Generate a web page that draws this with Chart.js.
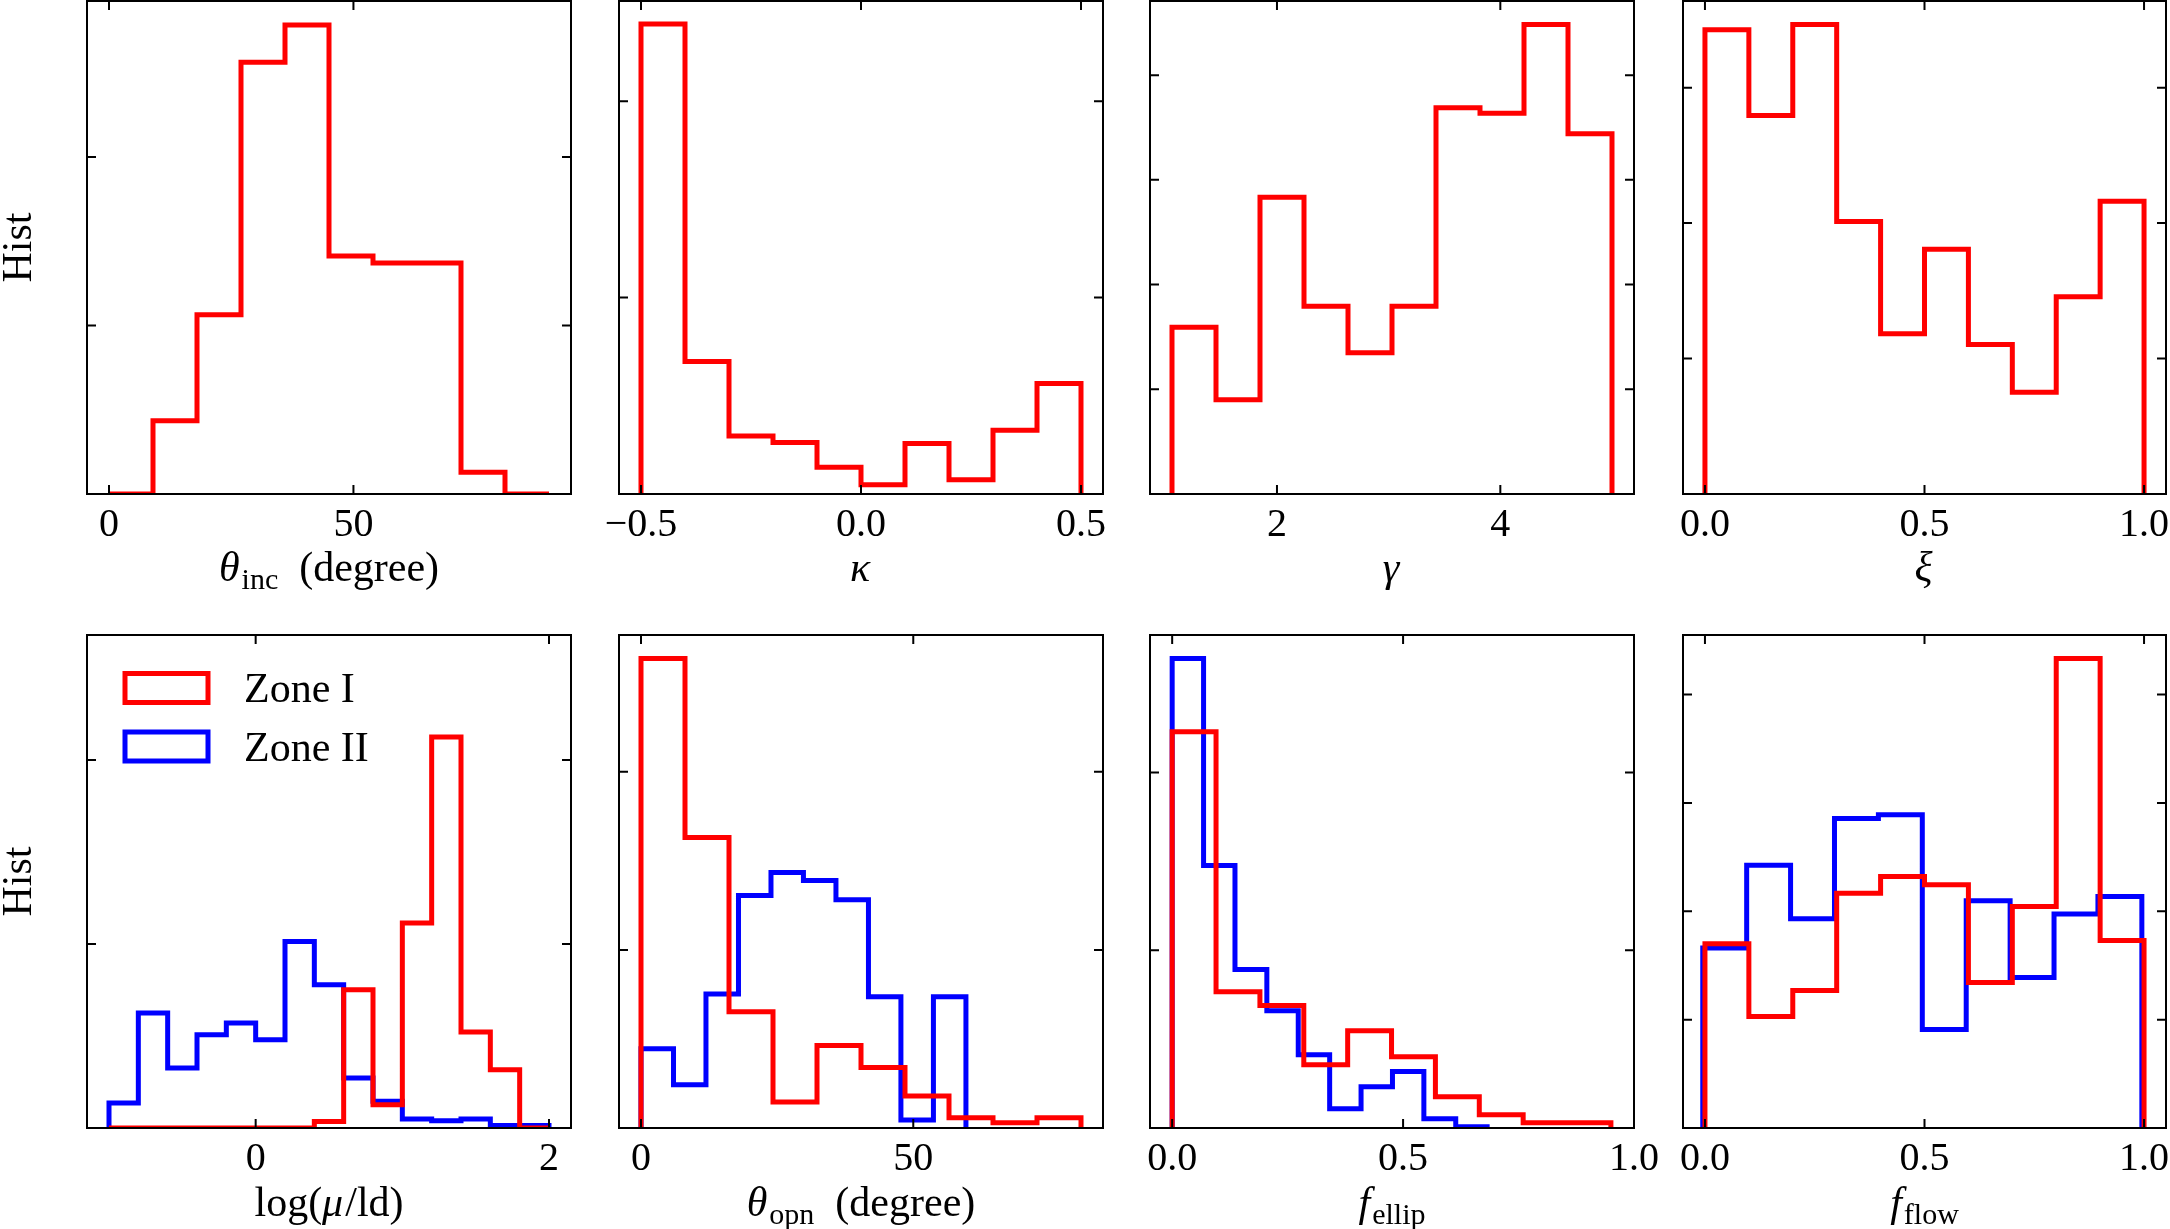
<!DOCTYPE html>
<html>
<head>
<meta charset="utf-8">
<title>Hist</title>
<script src="https://cdn.jsdelivr.net/npm/chart.js@4.4.1/dist/chart.umd.min.js"></script>
<style>
  html, body { margin: 0; padding: 0; background: #fff; overflow: hidden; }
  #wrap { position: relative; width: 2170px; height: 1229px; }
  #wrap canvas { position: absolute; }
</style>
</head>
<body>
<div id="wrap"></div>
<script>
// Histogram densities (bin edges + heights)
const incEdges = [0, 9, 18, 27, 36, 45, 54, 63, 72, 81, 90];
const incZone1 = [0, 0.00434, 0.01063, 0.02561, 0.02783, 0.01412, 0.01371, 0.01371, 0.00129, 0];

const kappaEdges = [-0.5, -0.4, -0.3, -0.2, -0.1, 0, 0.1, 0.2, 0.3, 0.4, 0.5];
const kappaZone1 = [4.786, 1.350, 0.591, 0.525, 0.272, 0.093, 0.514, 0.144, 0.650, 1.125];

const gammaEdges = [1.06, 1.454, 1.848, 2.242, 2.636, 3.03, 3.424, 3.818, 4.212, 4.606, 5.0];
const gammaZone1 = [0.1593, 0.0900, 0.2833, 0.1794, 0.1349, 0.1794, 0.3689, 0.3635, 0.4484, 0.3441];

const xiEdges = [0, 0.1, 0.2, 0.3, 0.4, 0.5, 0.6, 0.7, 0.8, 0.9, 1.0];
const xiZone1 = [1.714, 1.397, 1.733, 1.006, 0.592, 0.904, 0.552, 0.376, 0.728, 1.081];

const muEdges = [-1, -0.8, -0.6, -0.4, -0.2, 0, 0.2, 0.4, 0.6, 0.8, 1.0, 1.2, 1.4, 1.6, 1.8, 2.0];
const muZone1 = [0, 0, 0, 0, 0, 0, 0, 0.036, 0.752, 0.127, 1.114, 2.125, 0.522, 0.317, 0];
const muZone2 = [0.136, 0.625, 0.326, 0.507, 0.571, 0.480, 1.014, 0.779, 0.272, 0.145, 0.049, 0.040, 0.049, 0.013, 0.013];

const opnEdges1 = [0, 8.08, 16.16, 24.24, 32.32, 40.4, 48.48, 56.56, 64.64, 72.72, 80.8];
const opnZone1 = [0.05272, 0.03262, 0.01304, 0.00292, 0.00926, 0.00678, 0.0036, 0.00116, 0.00058, 0.00116];
const opnEdges2 = [0, 5.97, 11.93, 17.9, 23.87, 29.83, 35.8, 41.77, 47.73, 53.7, 59.67];
const opnZone2 = [0.0089, 0.00486, 0.01506, 0.02612, 0.02868, 0.02778, 0.02562, 0.01474, 0.0009, 0.01474];

const ellipEdges1 = [0, 0.095, 0.19, 0.285, 0.38, 0.475, 0.57, 0.665, 0.76, 0.855, 0.95];
const ellipZone1 = [4.46, 1.532, 1.378, 0.712, 1.094, 0.802, 0.352, 0.148, 0.058, 0.058];
const ellipEdges2 = [0, 0.068, 0.136, 0.205, 0.273, 0.341, 0.409, 0.477, 0.545, 0.614, 0.682];
const ellipZone2 = [5.284, 2.954, 1.784, 1.32, 0.824, 0.216, 0.464, 0.636, 0.104, 0.014];

const flowEdges1 = [0, 0.1, 0.2, 0.3, 0.4, 0.5, 0.6, 0.7, 0.8, 0.9, 1.0];
const flowZone1 = [0.850, 0.514, 0.634, 1.083, 1.160, 1.123, 0.671, 1.022, 2.167, 0.865];
const flowEdges2 = [-0.005, 0.095, 0.195, 0.295, 0.395, 0.495, 0.595, 0.695, 0.795, 0.895, 0.995];
const flowZone2 = [0.831, 1.212, 0.966, 1.428, 1.446, 0.454, 1.049, 0.694, 0.988, 1.068];

// tick values / labels
const degTicks = [0, 50];
const degTickLabels = ['0', '50'];
const kappaTicks = [-0.5, 0, 0.5];
const kappaTickLabels = ['\u22120.5', '0.0', '0.5'];
const gammaTicks = [2, 4];
const gammaTickLabels = ['2', '4'];
const unitTicks = [0, 0.5, 1.0];
const unitTickLabels = ['0.0', '0.5', '1.0'];
const muTicks = [0, 2];
const muTickLabels = ['0', '2'];

const RED = '#ff0000';
const BLUE = '#0000ff';
const FONT = '"Liberation Serif", "Times New Roman", serif';
const TICK_LEN = 9;

const cols = [[87, 571], [619, 1103], [1150, 1634], [1683, 2166]];
const rows = [[1, 494, 0, 620], [635, 1128, 620, 1229]];

const panels = [
  { row: 0, col: 0, xMin: -4.5, xMax: 94.5, yMax: 0.02925, xTicks: degTicks, xLabels: degTickLabels, yTicks: [0.01, 0.02],
    title: [{ t: 'θ', i: 1 }, { t: 'inc', sub: 1 }, { t: '  (degree)' }],
    sets: [{ label: 'Zone I', color: RED, edges: incEdges, vals: incZone1 }] },
  { row: 0, col: 1, xMin: -0.55, xMax: 0.55, yMax: 5.02, xTicks: kappaTicks, xLabels: kappaTickLabels, yTicks: [2, 4],
    title: [{ t: 'κ', i: 1 }],
    sets: [{ label: 'Zone I', color: RED, edges: kappaEdges, vals: kappaZone1 }] },
  { row: 0, col: 2, xMin: 0.863, xMax: 5.197, yMax: 0.4708, xTicks: gammaTicks, xLabels: gammaTickLabels, yTicks: [0.1, 0.2, 0.3, 0.4],
    title: [{ t: 'γ', i: 1 }],
    sets: [{ label: 'Zone I', color: RED, edges: gammaEdges, vals: gammaZone1 }] },
  { row: 0, col: 3, xMin: -0.05, xMax: 1.05, yMax: 1.82, xTicks: unitTicks, xLabels: unitTickLabels, yTicks: [0.5, 1.0, 1.5],
    title: [{ t: 'ξ', i: 1 }],
    sets: [{ label: 'Zone I', color: RED, edges: xiEdges, vals: xiZone1 }] },
  { row: 1, col: 0, xMin: -1.15, xMax: 2.15, yMax: 2.68, xTicks: muTicks, xLabels: muTickLabels, yTicks: [1, 2], legend: true,
    title: [{ t: 'log(' }, { t: 'μ', i: 1 }, { t: '/ld)' }],
    sets: [{ label: 'Zone I', color: RED, edges: muEdges, vals: muZone1 },
           { label: 'Zone II', color: BLUE, edges: muEdges, vals: muZone2 }] },
  { row: 1, col: 1, xMin: -4.04, xMax: 84.84, yMax: 0.05536, xTicks: degTicks, xLabels: degTickLabels, yTicks: [0.02, 0.04],
    title: [{ t: 'θ', i: 1 }, { t: 'opn', sub: 1 }, { t: '  (degree)' }],
    sets: [{ label: 'Zone I', color: RED, edges: opnEdges1, vals: opnZone1 },
           { label: 'Zone II', color: BLUE, edges: opnEdges2, vals: opnZone2 }] },
  { row: 1, col: 2, xMin: -0.048, xMax: 1.0, yMax: 5.548, xTicks: unitTicks, xLabels: unitTickLabels, yTicks: [2, 4],
    title: [{ t: 'f', i: 1 }, { t: 'ellip', sub: 1 }],
    sets: [{ label: 'Zone I', color: RED, edges: ellipEdges1, vals: ellipZone1 },
           { label: 'Zone II', color: BLUE, edges: ellipEdges2, vals: ellipZone2 }] },
  { row: 1, col: 3, xMin: -0.05, xMax: 1.05, yMax: 2.275, xTicks: unitTicks, xLabels: unitTickLabels, yTicks: [0.5, 1.0, 1.5, 2.0],
    title: [{ t: 'f', i: 1 }, { t: 'flow', sub: 1 }],
    sets: [{ label: 'Zone I', color: RED, edges: flowEdges1, vals: flowZone1 },
           { label: 'Zone II', color: BLUE, edges: flowEdges2, vals: flowZone2 }] }
];

// outline of a step histogram: up at first edge, across every bin, down at last edge
function stepPoints(edges, vals) {
  const pts = [{ x: edges[0], y: 0 }];
  vals.forEach((v, i) => pts.push({ x: edges[i], y: v }));
  pts.push({ x: edges[edges.length - 1], y: 0 });
  return pts;
}

function drawRuns(ctx, runs, cx, base) {
  const fontOf = r => (r.i ? 'italic ' : '') + (r.sub ? 30 : 42) + 'px ' + FONT;
  let w = 0;
  runs.forEach(r => { ctx.font = fontOf(r); w += ctx.measureText(r.t).width + (r.i ? 2 : 0); });
  let xx = cx - w / 2;
  runs.forEach(r => {
    ctx.font = fontOf(r);
    ctx.fillText(r.t, xx, base + (r.sub ? 8 : 0));
    xx += ctx.measureText(r.t).width + (r.i ? 2 : 0);
  });
}

function framePlugin(p) {
  return {
    id: 'frame',
    afterDatasetsDraw(chart) {
      const ctx = chart.ctx, a = chart.chartArea;
      const xs = chart.scales.x, ys = chart.scales.y;
      ctx.save();
      ctx.strokeStyle = '#000';
      ctx.lineWidth = 2;
      ctx.strokeRect(a.left, a.top, a.right - a.left, a.bottom - a.top);

      // inward ticks on all four sides
      ctx.beginPath();
      p.xTicks.forEach(v => {
        const px = xs.getPixelForValue(v);
        ctx.moveTo(px, a.bottom); ctx.lineTo(px, a.bottom - TICK_LEN);
        ctx.moveTo(px, a.top); ctx.lineTo(px, a.top + TICK_LEN);
      });
      p.yTicks.forEach(v => {
        const py = ys.getPixelForValue(v);
        ctx.moveTo(a.left, py); ctx.lineTo(a.left + TICK_LEN, py);
        ctx.moveTo(a.right, py); ctx.lineTo(a.right - TICK_LEN, py);
      });
      ctx.stroke();

      ctx.fillStyle = '#000';
      ctx.textBaseline = 'alphabetic';
      ctx.textAlign = 'center';
      ctx.font = '40px ' + FONT;
      p.xTicks.forEach((v, i) => ctx.fillText(p.xLabels[i], xs.getPixelForValue(v), a.bottom + 42));

      ctx.textAlign = 'left';
      drawRuns(ctx, p.title, (a.left + a.right) / 2, a.bottom + (p.row ? 88 : 87));

      if (p.col === 0) {
        ctx.save();
        ctx.translate(31, (a.top + a.bottom) / 2);
        ctx.rotate(-Math.PI / 2);
        ctx.textAlign = 'center';
        ctx.font = '42px ' + FONT;
        ctx.fillText('Hist', 0, 0);
        ctx.restore();
      }

      if (p.legend) {
        chart.data.datasets.forEach((ds, i) => {
          ctx.strokeStyle = ds.borderColor;
          ctx.lineWidth = 5;
          ctx.strokeRect(a.left + 38, a.top + 38.5 + i * 58.5, 83, 29);
          ctx.font = '42px ' + FONT;
          ctx.fillText(ds.label, a.left + 157, a.top + 67 + i * 58.5);
        });
      }
      ctx.restore();
    }
  };
}

const wrap = document.getElementById('wrap');
panels.forEach(p => {
  const [L, R] = cols[p.col];
  const [T, B, ct, cb] = rows[p.row];
  const cl = p.col === 0 ? 0 : L - 45;
  const cr = Math.min(2170, R + 45);
  const c = document.createElement('canvas');
  c.width = cr - cl;
  c.height = cb - ct;
  c.style.left = cl + 'px';
  c.style.top = ct + 'px';
  c.style.width = (cr - cl) + 'px';
  c.style.height = (cb - ct) + 'px';
  wrap.appendChild(c);

  new Chart(c, {
    type: 'line',
    data: {
      datasets: p.sets.map(s => ({
        label: s.label,
        data: stepPoints(s.edges, s.vals),
        borderColor: s.color,
        backgroundColor: 'rgba(0,0,0,0)',
        borderWidth: 5,
        borderJoinStyle: 'miter',
        stepped: 'before',
        pointRadius: 0,
        fill: false,
        clip: 0
      }))
    },
    options: {
      responsive: false,
      animation: false,
      events: [],
      layout: { padding: { left: L - cl, right: cr - R, top: T - ct, bottom: cb - B } },
      scales: {
        x: { type: 'linear', min: p.xMin, max: p.xMax, display: false },
        y: { type: 'linear', min: 0, max: p.yMax, display: false }
      },
      plugins: { legend: { display: false }, tooltip: { enabled: false } }
    },
    plugins: [framePlugin(p)]
  });
});
</script>
</body>
</html>
